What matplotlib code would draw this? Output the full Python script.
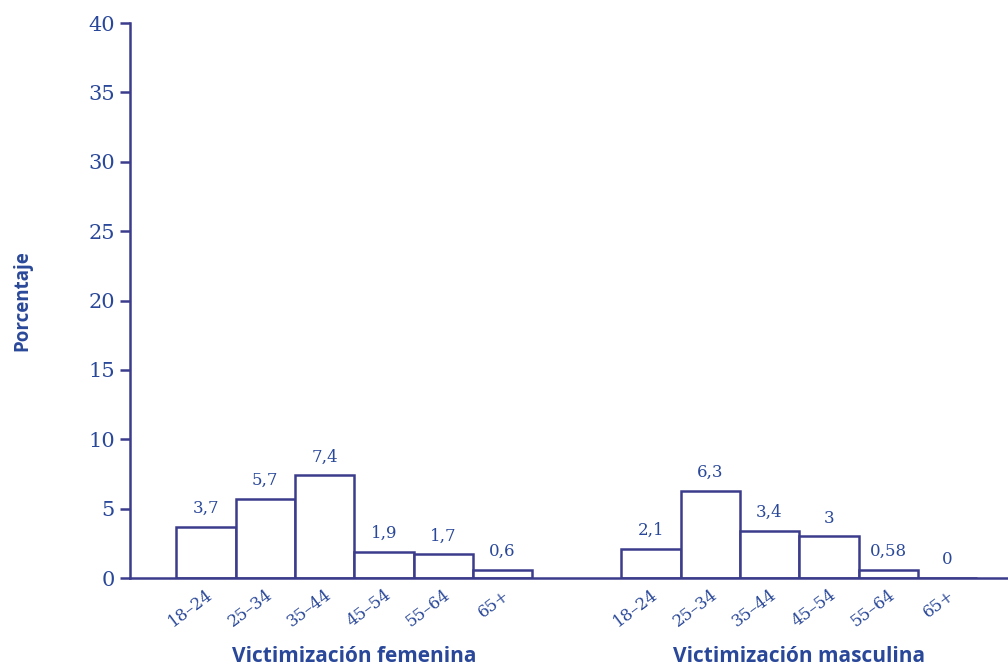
import numpy as np
import matplotlib
matplotlib.use("Agg")
import matplotlib.pyplot as plt
import matplotlib.transforms as mtransforms

# datos
grupos_edad = ["18–24", "25–34", "35–44", "45–54", "55–64", "65+"]
femenina = [3.7, 5.7, 7.4, 1.9, 1.7, 0.6]
masculina = [2.1, 6.3, 3.4, 3, 0.58, 0]
etiq_fem = ["3,7", "5,7", "7,4", "1,9", "1,7", "0,6"]
etiq_masc = ["2,1", "6,3", "3,4", "3", "0,58", "0"]
titulos = ["Victimización femenina", "Victimización masculina"]

linea = "#3c3c8c"
texto = "#2a4899"
num_font = "DejaVu Serif"
bold_font = "Open Sans"

fig = plt.figure(figsize=(10.08, 6.69), dpi=100)
ax = fig.add_axes([0.129, 0.136, 0.871, 0.8296])

x_fem = np.arange(len(grupos_edad))
x_masc = x_fem + 7.5

ax.bar(x_fem, femenina, width=1.0, facecolor="white", edgecolor=linea, linewidth=1.8, zorder=2)
ax.bar(x_masc, masculina, width=1.0, facecolor="white", edgecolor=linea, linewidth=1.8, zorder=2)

for xs, vals, labs in [(x_fem, femenina, etiq_fem), (x_masc, masculina, etiq_masc)]:
    for x, v, l in zip(xs, vals, labs):
        ax.annotate(l, (x, v), xytext=(0, 7), textcoords="offset points",
                    ha="center", va="bottom", color=texto, fontsize=12, family=num_font)

ax.set_xlim(-1.28, 13.52)
ax.set_ylim(0, 40)
ax.set_yticks(range(0, 41, 5))
ax.tick_params(axis="y", direction="out", length=7, width=1.8, color=linea,
               labelcolor=texto, labelsize=15, pad=4)
for t in ax.get_yticklabels():
    t.set_family(num_font)

ax.set_xticks(np.concatenate([x_fem, x_masc]))
ax.set_xticklabels(grupos_edad + grupos_edad, rotation=37, ha="right",
                   rotation_mode="anchor", color=texto, fontsize=12, family=num_font)
ax.tick_params(axis="x", length=0, pad=6)

for s in ["top", "right"]:
    ax.spines[s].set_visible(False)
ax.spines["left"].set_color(linea)
ax.spines["left"].set_linewidth(1.8)
ax.spines["bottom"].set_color(linea)
ax.spines["bottom"].set_linewidth(1.8)
ax.spines["bottom"].set_zorder(3)

trans = mtransforms.blended_transform_factory(ax.transData, fig.transFigure)
for xc, t in zip([x_fem.mean(), x_masc.mean()], titulos):
    fig.text(xc, 0.018, t, transform=trans, ha="center", va="center",
             color=texto, fontsize=15, fontweight="bold", family=bold_font)

fig.text(0.022, 0.55, "Porcentaje", rotation=90, ha="center", va="center",
         color=texto, fontsize=13.5, fontweight="bold", family=bold_font)

fig.savefig("out.png", dpi=100, facecolor="white")
